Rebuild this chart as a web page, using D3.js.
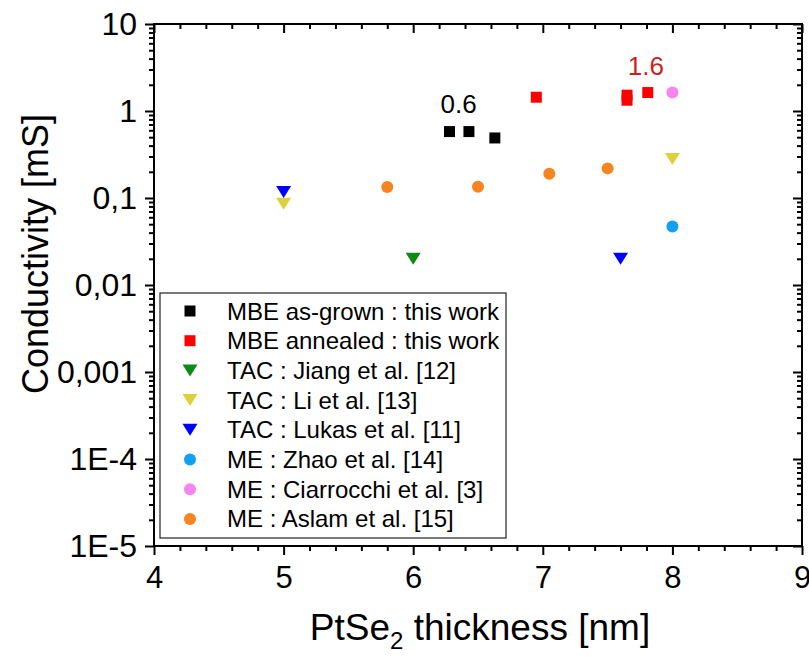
<!DOCTYPE html>
<html><head><meta charset="utf-8">
<script src="https://cdn.jsdelivr.net/npm/d3@7"></script>
<style>body{margin:0;background:#fff}</style>
</head><body><svg id="c" width="809" height="657"></svg>
<script>
// ---- data ----
const xTicks = [4, 5, 6, 7, 8, 9];
const yTicks = [10, 1, 0.1, 0.01, 0.001, 1e-4, 1e-5];
const yTickLabels = ["10", "1", "0,1", "0,01", "0,001", "1E-4", "1E-5"];

const seriesNames = ["MBE as-grown : this work", "MBE annealed : this work", "TAC : Jiang et al. [12]",
  "TAC : Li et al. [13]", "TAC : Lukas et al. [11]", "ME : Zhao et al. [14]",
  "ME : Ciarrocchi et al. [3]", "ME : Aslam et al. [15]"];
const seriesColors = ["#000000", "#ff0000", "#0e8a16", "#ddd03c", "#0000ff", "#12a0f2", "#f485ee", "#f7841e"];
const seriesSymbols = ["square", "square", "tri", "tri", "tri", "circle", "circle", "circle"];

const mbeAsGrownX = [6.28, 6.43, 6.63];
const mbeAsGrownY = [0.58, 0.58, 0.49];
const mbeAnnealedX = [6.95, 7.65, 7.65, 7.81];
const mbeAnnealedY = [1.44, 1.52, 1.33, 1.63];
const tacJiangX = [6.0];
const tacJiangY = [0.02];
const tacLiX = [5.0, 8.0];
const tacLiY = [0.086, 0.28];
const tacLukasX = [5.0, 7.6];
const tacLukasY = [0.117, 0.02];
const meZhaoX = [8.0];
const meZhaoY = [0.047];
const meCiarrocchiX = [8.0];
const meCiarrocchiY = [1.63];
const meAslamX = [5.8, 6.5, 7.05, 7.5];
const meAslamY = [0.134, 0.135, 0.19, 0.219];

const annotationText = ["0.6", "1.6"];
const annotationX = [6.35, 7.795];
const annotationY = [0.953, 2.6];
const annotationColors = ["#000000", "#cc1f1f"];

const seriesX = [mbeAsGrownX, mbeAnnealedX, tacJiangX, tacLiX, tacLukasX, meZhaoX, meCiarrocchiX, meAslamX];
const seriesY = [mbeAsGrownY, mbeAnnealedY, tacJiangY, tacLiY, tacLukasY, meZhaoY, meCiarrocchiY, meAslamY];

// ---- layout ----
const W = 809, H = 657;
const m = {left: 154, right: 7, top: 24, bottom: 111};
const FONT = "'Liberation Sans', Arial, sans-serif";
const svg = d3.select("#c");
svg.append("rect").attr("width", W).attr("height", H).attr("fill", "#fff");

const x = d3.scaleLinear().domain([4, 9]).range([m.left, W - m.right]);
const y = d3.scaleLog().domain([1e-5, 10]).range([H - m.bottom, m.top]);

const xMinor = d3.range(4, 9.0001, 0.2).filter(v => Math.abs(v - Math.round(v)) > 1e-6);
const yMinor = y.ticks().filter(v => Math.abs(Math.log10(v) - Math.round(Math.log10(v))) > 1e-6);

function styleAxis(g) {
  g.select(".domain").remove();
  g.selectAll("line").attr("stroke", "#000").attr("stroke-width", 2);
}

// bottom axis
const gB = svg.append("g").attr("transform", `translate(0,${H - m.bottom})`);
gB.call(d3.axisBottom(x).tickValues(xTicks).tickSize(9).tickFormat(d3.format("d")));
gB.call(styleAxis);
gB.selectAll("text").attr("font-family", FONT).attr("font-size", 31).attr("fill", "#000").attr("dy", "0.71em").attr("y", 20);
svg.append("g").attr("transform", `translate(0,${H - m.bottom})`)
  .call(d3.axisBottom(x).tickValues(xMinor).tickSize(5).tickFormat("")).call(styleAxis);
// top axis (inward)
svg.append("g").attr("transform", `translate(0,${m.top})`)
  .call(d3.axisBottom(x).tickValues(xTicks).tickSize(9).tickFormat("")).call(styleAxis);
svg.append("g").attr("transform", `translate(0,${m.top})`)
  .call(d3.axisBottom(x).tickValues(xMinor).tickSize(5).tickFormat("")).call(styleAxis);

// left axis
const gL = svg.append("g").attr("transform", `translate(${m.left},0)`);
gL.call(d3.axisLeft(y).tickValues(yTicks).tickSize(9).tickFormat((d, i) => yTickLabels[i]));
gL.call(styleAxis);
gL.selectAll("text").attr("font-family", FONT).attr("font-size", 32).attr("fill", "#000").attr("x", -17);
svg.append("g").attr("transform", `translate(${m.left},0)`)
  .call(d3.axisLeft(y).tickValues(yMinor).tickSize(5).tickFormat("")).call(styleAxis);
// right axis (inward)
svg.append("g").attr("transform", `translate(${W - m.right},0)`)
  .call(d3.axisLeft(y).tickValues(yTicks).tickSize(9).tickFormat("")).call(styleAxis);
svg.append("g").attr("transform", `translate(${W - m.right},0)`)
  .call(d3.axisLeft(y).tickValues(yMinor).tickSize(5).tickFormat("")).call(styleAxis);

// frame
svg.append("rect").attr("x", m.left).attr("y", m.top)
  .attr("width", W - m.left - m.right).attr("height", H - m.top - m.bottom)
  .attr("fill", "none").attr("stroke", "#000").attr("stroke-width", 2);

// symbols
function symbolPath(kind) {
  if (kind === "square") return "M-5.5,-5.5H5.5V5.5H-5.5Z";
  if (kind === "tri") return "M-7.5,-6H7.5L0,6Z";
  return d3.symbol(d3.symbolCircle, Math.PI * 6 * 6)();
}

seriesNames.forEach((name, si) => {
  const pts = seriesX[si].map((xv, i) => ({x: xv, y: seriesY[si][i]}));
  svg.append("g").selectAll("path").data(pts).join("path")
    .attr("d", symbolPath(seriesSymbols[si]))
    .attr("transform", d => `translate(${x(d.x)},${y(d.y)})`)
    .attr("fill", seriesColors[si]);
});

// annotations
svg.append("g").selectAll("text").data(annotationText).join("text")
  .attr("x", (d, i) => x(annotationX[i])).attr("y", (d, i) => y(annotationY[i]))
  .attr("text-anchor", "middle").attr("font-family", FONT).attr("font-size", 26)
  .attr("fill", (d, i) => annotationColors[i]).text(d => d);

// legend
const lg = svg.append("g");
lg.append("rect").attr("x", 160).attr("y", 293).attr("width", 346).attr("height", 245)
  .attr("fill", "#fff").attr("stroke", "#222").attr("stroke-width", 1.2);
seriesNames.forEach((name, i) => {
  const cy = 311 + i * 29.7;
  lg.append("path").attr("d", symbolPath(seriesSymbols[i]))
    .attr("transform", `translate(190,${cy})`).attr("fill", seriesColors[i]);
  lg.append("text").attr("x", 227).attr("y", cy + 8.5)
    .attr("font-family", FONT).attr("font-size", 24).attr("fill", "#000").text(name);
});

// axis titles
const xt = svg.append("text").attr("x", 480).attr("y", 640).attr("text-anchor", "middle")
  .attr("font-family", FONT).attr("font-size", 37).attr("fill", "#000");
xt.append("tspan").text("PtSe");
xt.append("tspan").attr("font-size", 24).attr("dy", 9).text("2");
xt.append("tspan").attr("dy", -9).text(" thickness [nm]");

svg.append("text").attr("transform", "translate(48,254) rotate(-90)").attr("text-anchor", "middle")
  .attr("font-family", FONT).attr("font-size", 36).attr("fill", "#000").text("Conductivity [mS]");
</script>
</body></html>
